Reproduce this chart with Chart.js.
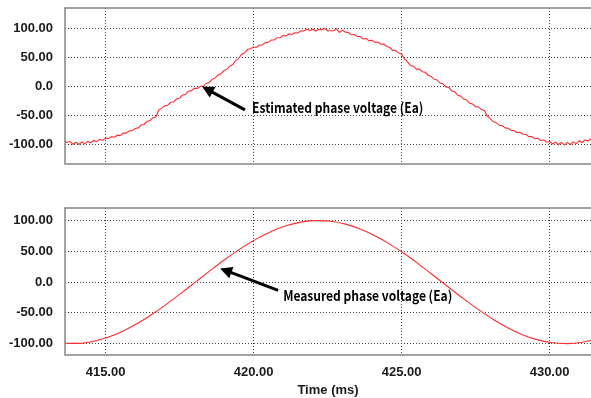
<!DOCTYPE html>
<html>
<head>
<meta charset="utf-8">
<script src="https://cdn.jsdelivr.net/npm/chart.js@4/dist/chart.umd.min.js"></script>
<style>
  html, body { margin: 0; padding: 0; background: #ffffff; }
  body { width: 591px; height: 398px; position: relative; overflow: hidden; }
  .panel { position: absolute; left: 0; width: 591px; }
  #topPanel { top: -14px; height: 200px; }
  #bottomPanel { top: 186px; height: 212px; }
</style>
</head>
<body>
<div class="panel" id="topPanel"><canvas id="estChart"></canvas></div>
<div class="panel" id="bottomPanel"><canvas id="measChart"></canvas></div>
<script>
// Time axis (ms)
const timeMin = 413.63;
const timeMax = 431.40;
const timeTicks = [415, 420, 425, 430];
const timeTickLabels = ['415.00', '420.00', '425.00', '430.00'];

// Voltage axis
const voltTicks = [-100, -50, 0, 50, 100];
const voltTickLabels = ['-100.00', '-50.00', '0.0', '50.00', '100.00'];

// Estimated phase voltage Ea, sampled every 0.1 ms from 413.6 ms
const estStart = 413.6;
const estStep = 0.1;
const estimatedEa = [
  -93, -96, -94.5, -99, -95.5, -99.5, -95, -98.5, -94, -96.5,
  -92.5, -94.5, -90.5, -92.5, -88.5, -89.5, -86, -87, -83.5, -84,
  -80, -80, -76, -76, -72, -71, -66, -65, -60, -58.5,
  -53.5, -52.5, -40, -37, -33, -32, -27, -26.5, -21, -20,
  -14.5, -13.5, -8, -7, -3, -3, 0.5, 0.5, 5.5, 7,
  12.5, 14.5, 20, 22, 27.5, 29.5, 35.5, 38, 45, 48.5,
  55.5, 57.5, 64, 65, 68, 67.5, 71.5, 71.5, 75.5, 76,
  80, 80, 84, 84, 88, 87, 90.5, 89.5, 92.5, 92,
  96, 95.5, 98.5, 96, 98.5, 95.5, 98.5, 97.5, 100, 95.5,
  96, 96, 99.5, 93, 97, 93.5, 93, 89, 89.5, 86,
  86, 82, 82.5, 79, 79.5, 76, 76.5, 73, 73, 69,
  67, 62, 62, 57.5, 56, 47, 43, 36, 35, 30,
  30, 25.5, 24.5, 19.5, 17.5, 12.5, 11.5, 6, 5, -0.5,
  -1.5, -7.5, -9, -15, -16.5, -21.5, -23, -28.5, -30, -34.5,
  -35, -39.5, -41, -51, -55, -60.5, -62, -66.5, -67, -71,
  -71.5, -75.5, -75.5, -79, -78.5, -82, -82, -86, -86, -89.5,
  -88.5, -93, -91.5, -95.5, -94, -98.5, -95.5, -99.5, -96, -100.5,
  -96, -99.5, -95, -98, -93, -96, -91.5, -93.5, -89.5
];

// Measured phase voltage Ea
const measTimes = [
  413.6, 414.1, 414.6, 415.1, 415.6, 416.1, 416.6, 417.1, 417.6, 418.1,
  418.6, 419.1, 419.6, 420.1, 420.6, 421.1, 421.6, 422.1, 422.6, 423.1,
  423.6, 424.1, 424.6, 425.1, 425.6, 426.1, 426.6, 427.1, 427.6, 428.1,
  428.6, 429.1, 429.6, 430.1, 430.6, 431.1, 431.6
];
const measuredEa = [
  -99.5, -99.6, -96.2, -89.4, -79.4, -66.6, -51.4, -34.5, -16.3, 2.5,
  21.2, 39.1, 55.7, 70.3, 82.4, 91.5, 97.5, 99.9, 98.9, 94.3,
  86.4, 75.4, 61.8, 46.0, 28.5, 10.0, -8.8, -27.3, -44.8, -60.8,
  -74.6, -85.8, -93.9, -98.7, -100.0, -97.7, -92.0
];

const estPoints = estimatedEa.map((v, i) => ({ x: +(estStart + i * estStep).toFixed(2), y: v }));
const measPoints = measuredEa.map((v, i) => ({ x: measTimes[i], y: v }));

const tickFont = { family: "'Liberation Sans', Arial, sans-serif", size: 13, weight: 'bold' };
const noteFont = "bold 14px 'Noto Sans CJK KR', 'Noto Sans', sans-serif";
const noteScaleX = 0.86;
const gridColor = '#3c3c3c';
const frameColor = '#858585';
const traceColor = 'rgb(255,45,45)';

// Plot frame: top, left and bottom edges of the chart area
const framePlugin = {
  id: 'plotFrame',
  afterDraw(chart) {
    const { ctx, chartArea: a } = chart;
    ctx.save();
    ctx.strokeStyle = frameColor;
    ctx.lineWidth = 1.5;
    ctx.beginPath();
    ctx.moveTo(a.right + 2, a.top);
    ctx.lineTo(a.left, a.top);
    ctx.lineTo(a.left, a.bottom);
    ctx.lineTo(a.right + 2, a.bottom);
    ctx.stroke();
    ctx.restore();
  }
};

// Arrow with a caption, anchored in data coordinates
const arrowNotePlugin = {
  id: 'arrowNote',
  afterDatasetsDraw(chart, args, opts) {
    if (!opts || !opts.text) return;
    const { ctx, scales: { x, y } } = chart;
    const tx = x.getPixelForValue(opts.tip[0]), ty = y.getPixelForValue(opts.tip[1]);
    const sx = x.getPixelForValue(opts.tail[0]), sy = y.getPixelForValue(opts.tail[1]);
    const ang = Math.atan2(ty - sy, tx - sx);
    const headLen = 12, headHalf = 6;
    const bx = tx - headLen * Math.cos(ang), by = ty - headLen * Math.sin(ang);
    ctx.save();
    ctx.strokeStyle = '#000';
    ctx.fillStyle = '#000';
    ctx.lineWidth = 3;
    ctx.beginPath();
    ctx.moveTo(sx, sy);
    ctx.lineTo(bx + 2 * Math.cos(ang), by + 2 * Math.sin(ang));
    ctx.stroke();
    ctx.beginPath();
    ctx.moveTo(tx, ty);
    ctx.lineTo(bx - headHalf * Math.sin(ang), by + headHalf * Math.cos(ang));
    ctx.lineTo(bx + headHalf * Math.sin(ang), by - headHalf * Math.cos(ang));
    ctx.closePath();
    ctx.fill();
    ctx.font = noteFont;
    ctx.textAlign = 'left';
    ctx.textBaseline = 'middle';
    ctx.translate(x.getPixelForValue(opts.label[0]), y.getPixelForValue(opts.label[1]));
    ctx.scale(noteScaleX, 1);
    ctx.fillText(opts.text, 0, 0);
    ctx.restore();
  }
};

function makeChart(canvasId, points, yMin, yMax, showTime, note, padTop, padBottom, xHeight) {
  return new Chart(document.getElementById(canvasId), {
    type: 'line',
    data: {
      datasets: [{
        data: points,
        borderColor: traceColor,
        borderWidth: 1.1,
        pointRadius: 0,
        fill: false,
        tension: showTime ? 0.4 : 0,
        cubicInterpolationMode: showTime ? 'monotone' : 'default'
      }]
    },
    options: {
      responsive: true,
      maintainAspectRatio: false,
      animation: false,
      events: [],
      layout: { padding: { top: padTop, bottom: padBottom, left: 0, right: 0 } },
      plugins: {
        legend: { display: false },
        title: { display: false },
        tooltip: { enabled: false },
        arrowNote: note
      },
      scales: {
        x: {
          type: 'linear',
          min: timeMin,
          max: timeMax,
          afterBuildTicks: s => { s.ticks = timeTicks.map(v => ({ value: v })); },
          afterFit: s => { s.height = xHeight; },
          border: { display: false, dash: [1, 2] },
          grid: { color: gridColor, lineWidth: 1, drawTicks: false },
          ticks: {
            display: showTime,
            padding: 10,
            color: '#1a1a1a',
            font: tickFont,
            maxRotation: 0,
            callback: (v) => timeTickLabels[timeTicks.indexOf(v)]
          },
          title: {
            display: showTime,
            text: 'Time (ms)',
            color: '#1a1a1a',
            font: tickFont,
            padding: { top: 0, bottom: 0 }
          }
        },
        y: {
          type: 'linear',
          min: yMin,
          max: yMax,
          afterBuildTicks: s => { s.ticks = voltTicks.map(v => ({ value: v })); },
          afterFit: s => { s.width = 65; },
          border: { display: false, dash: [1, 2] },
          grid: { color: gridColor, lineWidth: 1, drawTicks: false },
          ticks: {
            padding: 12,
            color: '#1a1a1a',
            font: tickFont,
            callback: (v) => voltTickLabels[voltTicks.indexOf(v)]
          }
        }
      }
    },
    plugins: [framePlugin, arrowNotePlugin]
  });
}

makeChart('estChart', estPoints, -133, 135, false,
  { text: 'Estimated phase voltage (Ea)', tip: [418.26, 0], tail: [419.71, -40], label: [419.95, -36.5] },
  22, 22, 0);

makeChart('measChart', measPoints, -118.5, 120.5, true,
  { text: 'Measured phase voltage (Ea)', tip: [418.87, 22.3], tail: [420.83, -13.5], label: [421.0, -21.6] },
  22, 0, 43);
</script>
</body>
</html>
